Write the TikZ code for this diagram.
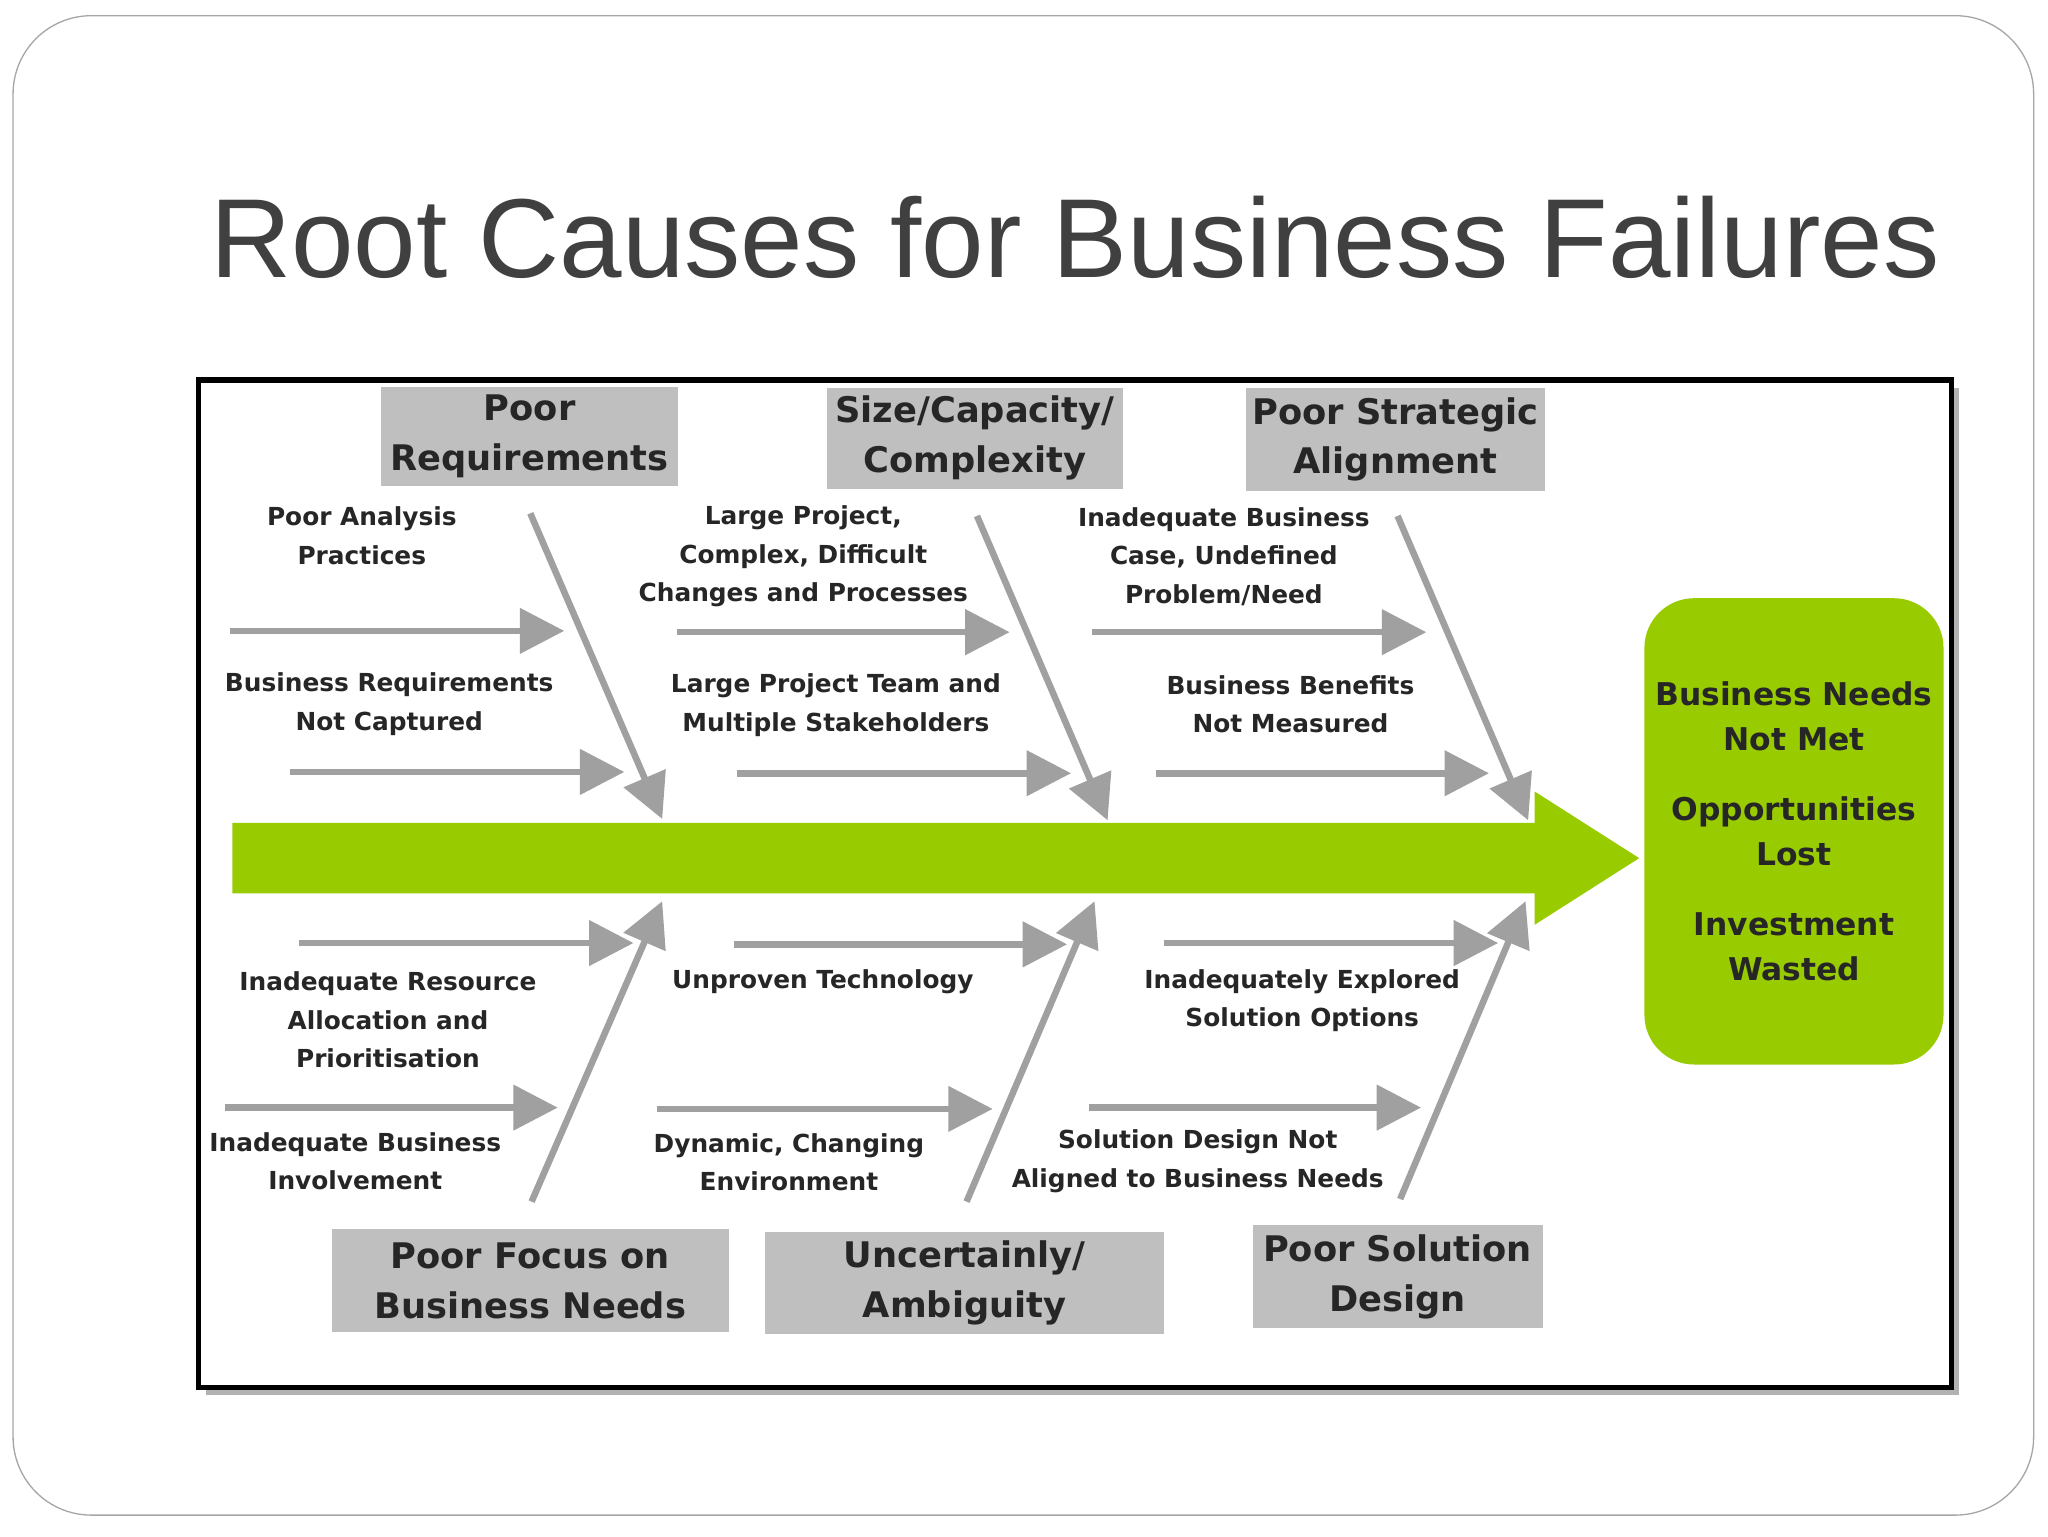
\documentclass[tikz,border=0pt]{standalone}
\usepackage{fontspec}
\setmainfont{DejaVu Sans}
\newfontfamily\titlefont{Liberation Sans}
\usetikzlibrary{arrows.meta}
\definecolor{fishgreen}{HTML}{99CC00}
\definecolor{catgray}{HTML}{BFBFBF}
\definecolor{arrgray}{HTML}{A0A0A0}
\tikzset{
  cat/.style={fill=catgray,draw=none,inner sep=0pt,align=center,font=\bfseries\fontsize{27}{38}\selectfont,text=black!85},
  lbl/.style={align=center,inner sep=0pt,font=\bfseries\fontsize{19}{29.5}\selectfont,text=black!85},
  bone/.style={draw=arrgray,line width=5pt,-{Triangle[length=34pt,width=34pt]}},
}
\begin{document}
\begin{tikzpicture}[x=1pt,y=-1pt]
\useasboundingbox (0,0) rectangle (1568,1176);
\fill[white] (0,0) rectangle (1568,1176);
\draw[gray!70,line width=1pt,rounded corners=60pt] (10,12) rectangle (1557,1160);
\node[font=\titlefont\fontsize{86}{90}\selectfont,text=black!75] (title) at (823,182) {Root Causes for Business Failures};
% frame
\fill[gray!60] (158,297) rectangle (1500,1068);
\draw[black,line width=4pt,fill=white] (152,291) rectangle (1494,1062);
% spine
\fill[fishgreen] (178,630) -- (1175,630) -- (1175,606) -- (1255,657) -- (1175,708) -- (1175,684) -- (178,684) -- cycle;
\coordinate (head) at (1255,657);
% effect box
\node[fill=fishgreen,rounded corners=38pt,minimum width=229pt,minimum height=357pt,inner sep=0pt] (eff) at (1373.5,636.5) {};
\node[align=center,font=\bfseries\fontsize{24}{35}\selectfont,text=black!85] (effT) at (1373.5,636.5) {Business Needs\\Not Met\\[18pt]Opportunities\\Lost\\[18pt]Investment\\Wasted};
% categories
\node[cat,minimum width=227pt,minimum height=76pt] (c1) at (405.5,334) {Poor\\Requirements};
\node[cat,minimum width=227pt,minimum height=77pt] (c2) at (746.5,335.5) {Size/Capacity/\\Complexity};
\node[cat,minimum width=229pt,minimum height=79pt] (c3) at (1068.5,336.5) {Poor Strategic\\Alignment};
\node[cat,minimum width=304pt,minimum height=79pt] (c4) at (406,980.5) {Poor Focus on\\Business Needs};
\node[cat,minimum width=305pt,minimum height=78pt] (c5) at (738.5,982) {Uncertainly/\\Ambiguity};
\node[cat,minimum width=222pt,minimum height=79pt] (c6) at (1070,977.5) {Poor Solution\\Design};
% diagonal bones
\coordinate (d1s) at (406,393); \coordinate (d1e) at (507,627);
\coordinate (d2s) at (748,395); \coordinate (d2e) at (848,628);
\coordinate (d3s) at (1070,395); \coordinate (d3e) at (1170,628);
\coordinate (d4s) at (407,920); \coordinate (d4e) at (507,690);
\coordinate (d5s) at (740,920); \coordinate (d5e) at (838,690);
\coordinate (d6s) at (1072,918); \coordinate (d6e) at (1168,690);
\foreach \i in {1,...,6} {\draw[bone] (d\i s) -- (d\i e);}
% horizontal bones
\coordinate (h1s) at (176,483); \coordinate (h1e) at (432,483);
\coordinate (h2s) at (518,484); \coordinate (h2e) at (773,484);
\coordinate (h3s) at (836,484); \coordinate (h3e) at (1092,484);
\coordinate (h4s) at (222,591); \coordinate (h4e) at (478,591);
\coordinate (h5s) at (564,592); \coordinate (h5e) at (820,592);
\coordinate (h6s) at (885,592); \coordinate (h6e) at (1140,592);
\coordinate (h7s) at (229,722); \coordinate (h7e) at (485,722);
\coordinate (h8s) at (562,723); \coordinate (h8e) at (817,723);
\coordinate (h9s) at (891,722); \coordinate (h9e) at (1147,722);
\coordinate (h10s) at (172,848); \coordinate (h10e) at (427,848);
\coordinate (h11s) at (503,849); \coordinate (h11e) at (760,849);
\coordinate (h12s) at (834,848); \coordinate (h12e) at (1088,848);
\foreach \i in {1,...,12} {\draw[bone] (h\i s) -- (h\i e);}
% labels
\node[lbl] (l1) at (277,410) {Poor Analysis\\Practices};
\node[lbl] (l2) at (615,426) {Large Project,\\Complex, Difficult\\Changes and Processes};
\node[lbl] (l3) at (937,426) {Inadequate Business\\Case, Undefined\\Problem/Need};
\node[lbl] (l4) at (298,539) {Business Requirements\\Not Captured};
\node[lbl] (l5) at (640,540) {Large Project Team and\\Multiple Stakeholders};
\node[lbl] (l6) at (988,539) {Business Benefits\\Not Measured};
\node[lbl] (l7) at (297,781) {Inadequate Resource\\Allocation and\\Prioritisation};
\node[lbl] (l8) at (630,752) {Unproven Technology};
\node[lbl] (l9) at (997,766) {Inadequately Explored\\Solution Options};
\node[lbl] (l10) at (272,889) {Inadequate Business\\Involvement};
\node[lbl] (l11) at (604,890) {Dynamic, Changing\\Environment};
\node[lbl] (l12) at (917,889) {Solution Design Not\\Aligned to Business Needs};
\end{tikzpicture}
\end{document}
